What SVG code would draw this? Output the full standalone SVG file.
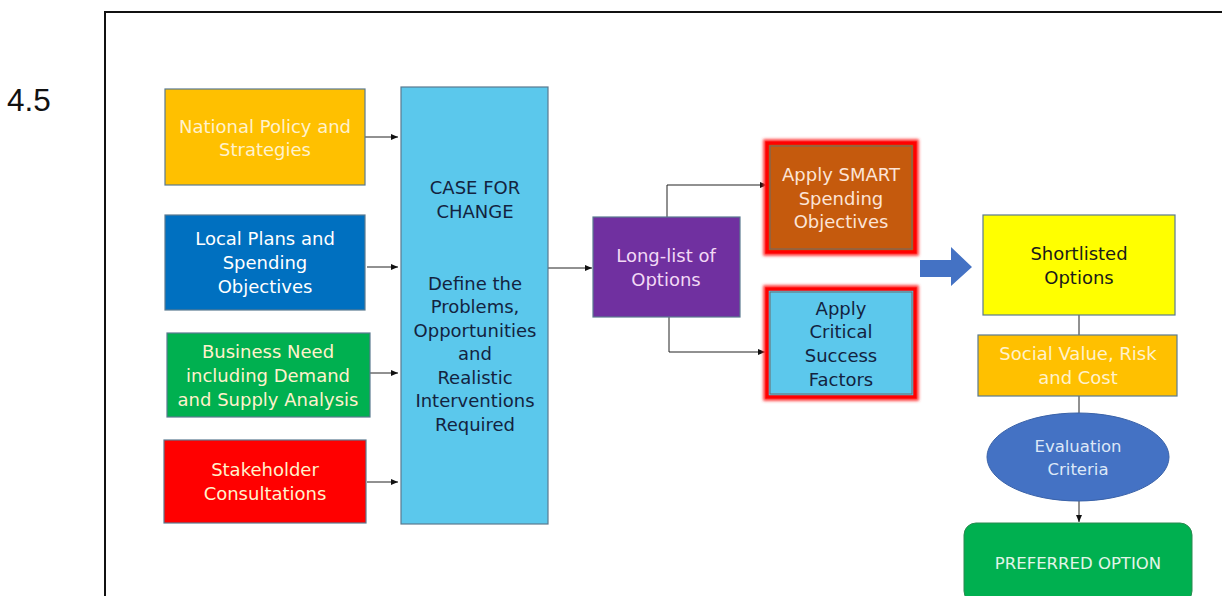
<svg xmlns="http://www.w3.org/2000/svg" width="1222" height="596" viewBox="0 0 1222 596">
<style>
  text { font-family: "DejaVu Sans", "Noto Sans", sans-serif; font-size: 18px; text-anchor: middle; }
  .box { stroke: #5a7a90; stroke-width: 1.2; }
  .light { fill: #FFF2CC; }
  .white { fill: #FFFFFF; }
  .dark { fill: #13233F; }
  .conn { fill: none; stroke: #222; stroke-width: 1; }
  .glow { stroke: #FF0000; stroke-width: 3.5; filter: url(#redglow); }
  .small { font-size: 16.5px; }
</style>
<defs>
  <marker id="ah" markerWidth="8" markerHeight="8" refX="7" refY="4" orient="auto" markerUnits="userSpaceOnUse">
    <path d="M0,1 L7,4 L0,7 Z" fill="#111"/>
  </marker>
  <filter id="redglow" x="-10%" y="-10%" width="120%" height="120%">
    <feMorphology in="SourceAlpha" operator="dilate" radius="1.5" result="d"/>
    <feGaussianBlur in="d" stdDeviation="1.5" result="b"/>
    <feFlood flood-color="#FF3030"/>
    <feComposite in2="b" operator="in" result="g"/>
    <feMerge><feMergeNode in="g"/><feMergeNode in="SourceGraphic"/></feMerge>
  </filter>
</defs>
<rect x="0" y="0" width="1222" height="596" fill="#FFFFFF"/>
<rect x="105" y="12" width="1130" height="600" fill="none" stroke="#111" stroke-width="2"/>
<text x="7" y="111" style="font-family:'Liberation Sans',Arial,sans-serif;font-size:31.5px;fill:#111;text-anchor:start">4.5</text>

<g id="connectors">
  <line class="conn" x1="365" y1="137" x2="398" y2="137" marker-end="url(#ah)"/>
  <line class="conn" x1="367" y1="267" x2="398" y2="267" marker-end="url(#ah)"/>
  <line class="conn" x1="370" y1="373" x2="398" y2="373" marker-end="url(#ah)"/>
  <line class="conn" x1="367" y1="482" x2="398" y2="482" marker-end="url(#ah)"/>
  <line class="conn" x1="548" y1="268" x2="592" y2="268" marker-end="url(#ah)"/>
  <polyline class="conn" points="667,217 667,185 767,185" marker-end="url(#ah)"/>
  <polyline class="conn" points="669,317 669,352 765,352" marker-end="url(#ah)"/>
  <line class="conn" x1="1079" y1="315" x2="1079" y2="335"/>
  <line class="conn" x1="1079" y1="396" x2="1079" y2="413"/>
  <line class="conn" x1="1079" y1="501" x2="1079" y2="522" marker-end="url(#ah)"/>
  <path d="M920,260 L951,260 L951,247 L972,267 L951,286 L951,277 L920,277 Z" fill="#4472C4"/>
</g>

<g id="national">
  <rect class="box" x="165" y="89" width="200" height="96" fill="#FFC000"/>
  <text class="light" x="265" y="133">National Policy and</text>
  <text class="light" x="265" y="156">Strategies</text>
</g>
<g id="local">
  <rect class="box" x="165" y="215" width="200" height="95" fill="#0070C0"/>
  <text class="white" x="265" y="245">Local Plans and</text>
  <text class="white" x="265" y="269">Spending</text>
  <text class="white" x="265" y="293">Objectives</text>
</g>
<g id="business">
  <rect class="box" x="167" y="333" width="203" height="84" fill="#00B050"/>
  <text class="light" x="268" y="358">Business Need</text>
  <text class="light" x="268" y="382">including Demand</text>
  <text class="light" x="268" y="406">and Supply Analysis</text>
</g>
<g id="stakeholder">
  <rect class="box" x="164" y="440" width="202" height="83" fill="#FF0000"/>
  <text class="light" x="265" y="476">Stakeholder</text>
  <text class="light" x="265" y="500">Consultations</text>
</g>
<g id="case">
  <rect class="box" x="401" y="87" width="147" height="437" fill="#5BC8EC"/>
  <text class="dark" x="475" y="194">CASE FOR</text>
  <text class="dark" x="475" y="218">CHANGE</text>
  <text class="dark" x="475" y="290">Define the</text>
  <text class="dark" x="475" y="313">Problems,</text>
  <text class="dark" x="475" y="337">Opportunities</text>
  <text class="dark" x="475" y="360">and</text>
  <text class="dark" x="475" y="384">Realistic</text>
  <text class="dark" x="475" y="407">Interventions</text>
  <text class="dark" x="475" y="431">Required</text>
</g>
<g id="longlist">
  <rect class="box" x="593" y="217" width="147" height="100" fill="#7030A0"/>
  <text style="fill:#F2D9F5" x="666" y="262">Long-list of</text>
  <text style="fill:#F2D9F5" x="666" y="286">Options</text>
</g>
<g id="smart">
  <rect class="glow" x="767" y="143" width="148" height="109" fill="#C55A11"/>
  <rect x="770" y="146" width="142" height="103" fill="none" stroke="#6a6a6a" stroke-width="1"/>
  <text style="fill:#FCE4D6" x="841" y="181">Apply SMART</text>
  <text style="fill:#FCE4D6" x="841" y="205">Spending</text>
  <text style="fill:#FCE4D6" x="841" y="228">Objectives</text>
</g>
<g id="csf">
  <rect class="glow" x="767" y="289" width="148" height="108" fill="#5BC8EC"/>
  <rect x="770" y="292" width="142" height="102" fill="none" stroke="#6a6a6a" stroke-width="1"/>
  <text class="dark" x="841" y="315">Apply</text>
  <text class="dark" x="841" y="338">Critical</text>
  <text class="dark" x="841" y="362">Success</text>
  <text class="dark" x="841" y="386">Factors</text>
</g>
<g id="shortlisted">
  <rect class="box" x="983" y="215" width="192" height="100" fill="#FFFF00"/>
  <text style="fill:#1a1a1a" x="1079" y="260">Shortlisted</text>
  <text style="fill:#1a1a1a" x="1079" y="284">Options</text>
</g>
<g id="social">
  <rect class="box" x="978" y="335" width="199" height="61" fill="#FFC000"/>
  <text class="light" x="1078" y="360">Social Value, Risk</text>
  <text class="light" x="1078" y="384">and Cost</text>
</g>
<g id="evaluation">
  <ellipse cx="1078" cy="457" rx="91" ry="44" fill="#4472C4" stroke="#3a62a8" stroke-width="1"/>
  <text class="small" style="fill:#DDE8F7" x="1078" y="452">Evaluation</text>
  <text class="small" style="fill:#DDE8F7" x="1078" y="475">Criteria</text>
</g>
<g id="preferred">
  <rect x="964" y="523" width="228" height="80" rx="12" fill="#00B050" stroke="#2a8a50" stroke-width="1"/>
  <text class="small" style="fill:#E2F5E8" x="1078" y="569">PREFERRED OPTION</text>
</g>
</svg>
